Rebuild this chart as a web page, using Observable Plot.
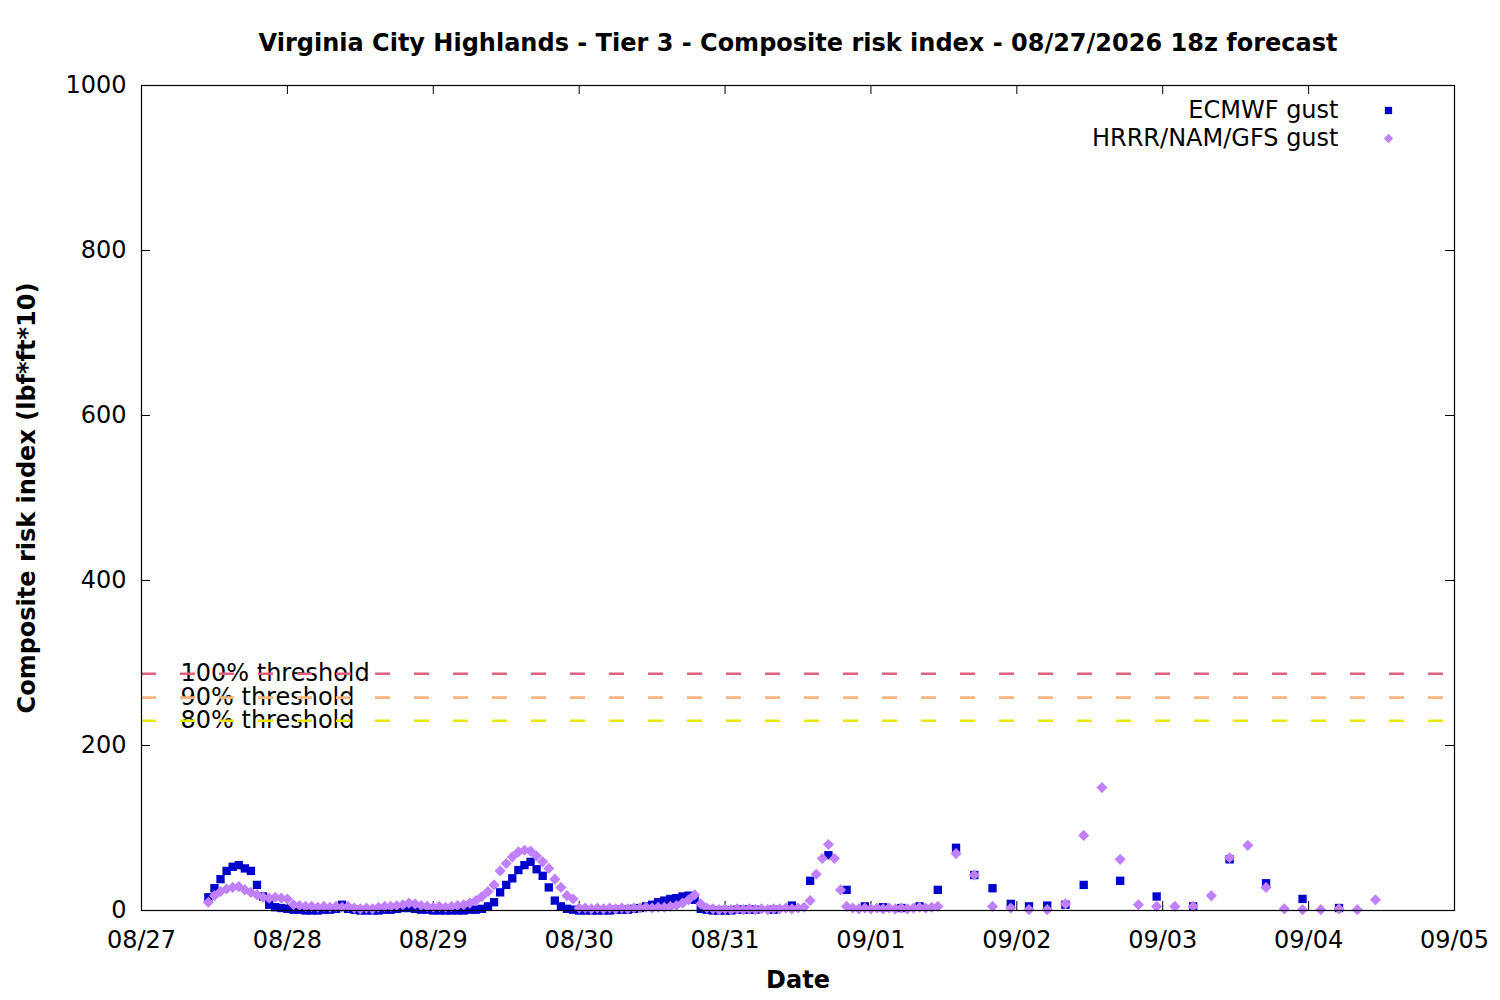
<!DOCTYPE html>
<html>
<head>
<meta charset="utf-8">
<script src="https://cdn.jsdelivr.net/npm/d3@7"></script>
<script src="https://cdn.jsdelivr.net/npm/@observablehq/plot@0.6"></script>
<style>
  body { margin: 0; background: #fff; }
  #chart svg { display: block; }
</style>
</head>
<body>
<div id="chart"></div>
<script>
// ---- Text ----
const title = "Virginia City Highlands - Tier 3 - Composite risk index - 08/27/2026 18z forecast";
const yLabel = "Composite risk index (lbf*ft*10)";
const xLabel = "Date";
const seriesNames = ["ECMWF gust", "HRRR/NAM/GFS gust"];
const seriesColors = ["#0000cc", "#c080ff"];

// ---- Axis ticks ----
const dayTickLabels = ["08/27", "08/28", "08/29", "08/30", "08/31", "09/01", "09/02", "09/03", "09/04", "09/05"];
const yTickValues = [0, 200, 400, 600, 800, 1000];

// ---- Thresholds ----
const thresholdLabels = ["100% threshold", "90% threshold", "80% threshold"];
const thresholdValues = [287, 258, 230];
const thresholdColors = ["#e0607e", "#fdb57f", "#e8e800"];

// ---- ECMWF gust (local time) ----
const ecmwfHourlyStart = "2026-08-27T11:00Z";   // hourly
const ecmwfHourly = [
  16, 27, 38, 48, 53, 55, 51, 48, 31, 17,
  7, 4, 3, 2, 1, 1, 0, 0, 0, 1,
  1, 2, 7, 2, 1, 0, 0, 0, 0, 1,
  1, 2, 3, 3, 2, 1, 1, 0, 0, 0,
  0, 0, 0, 1, 1, 2, 5, 10, 22, 31,
  39, 49, 55, 59, 50, 42, 28, 12, 5, 2,
  1, 0, 0, 0, 0, 0, 0, 1, 1, 1,
  2, 3, 5, 7, 10, 12, 14, 15, 17, 18,
  13, 2, 1, 0, 0, 0, 0, 1, 1, 1,
  1
];
const ecmwf3hStart = "2026-08-31T08:00Z";       // every 3 h
const ecmwf3h = [1, 6, 36, 67, 25, 5, 4, 3, 5, 25, 76, 43, 27, 8, 5, 6, 7, 31];
const ecmwf6hStart = "2026-09-02T17:00Z";       // every 6 h
const ecmwf6h = [36, 17, 5, 62, 33, 14, 3];

// ---- HRRR/NAM/GFS gust ----
const gfsHourlyStart = "2026-08-27T11:00Z";     // hourly
const gfsHourly = [
  10, 18, 23, 26, 28, 29, 25, 22, 19, 16,
  15, 16, 15, 14, 7, 6, 5, 5, 4, 5,
  4, 5, 4, 5, 3, 2, 3, 2, 4, 5,
  5, 6, 7, 9, 8, 6, 5, 4, 5, 4,
  5, 6, 7, 9, 12, 17, 23, 31, 48, 57,
  65, 71, 73, 72, 66, 59, 51, 38, 28, 18,
  14, 3, 3, 2, 3, 2, 3, 2, 3, 2,
  3, 3, 4, 3, 4, 4, 5, 6, 9, 13,
  19, 8, 3, 2, 1, 2, 1, 2, 1, 2,
  1, 2, 1, 2, 2, 3, 2, 3, 4, 12,
  44, 63, 80, 63, 25, 5, 3, 2, 3, 2,
  3, 2, 3, 2, 3, 2, 3, 4, 3, 4,
  5
];
const gfs3hStart = "2026-09-01T14:00Z";         // every 3 h
const gfs3h = [69, 43, 5, 3, 1, 1, 8, 91, 149, 62, 7, 5, 5, 5, 18, 64, 79, 28, 2, 1, 1, 2, 1, 13];

// ---- Build tables ----
const HOUR = 3600 * 1000;
function block(start, stepHours, values, series) {
  const t0 = new Date(start).getTime();
  return values.map((v, i) => ({date: new Date(t0 + i * stepHours * HOUR), value: v, series}));
}
const ecmwf = [
  ...block(ecmwfHourlyStart, 1, ecmwfHourly, seriesNames[0]),
  ...block(ecmwf3hStart, 3, ecmwf3h, seriesNames[0]),
  ...block(ecmwf6hStart, 6, ecmwf6h, seriesNames[0])
];
const gfs = [
  ...block(gfsHourlyStart, 1, gfsHourly, seriesNames[1]),
  ...block(gfs3hStart, 3, gfs3h, seriesNames[1])
];
const xTicks = dayTickLabels.map(s => {
  const [m, d] = s.split("/").map(Number);
  return new Date(Date.UTC(2026, m - 1, d));
});
const thresholds = thresholdLabels.map((label, i) => ({label, value: thresholdValues[i], color: thresholdColors[i]}));

const W = 1500, H = 1000;
const mL = 141, mR = 46, mT = 85, mB = 90;
const frameW = W - mL - mR, frameH = H - mT - mB;
const tickLen = 9;

const chart = Plot.plot({
  width: W,
  height: H,
  marginLeft: mL,
  marginRight: mR,
  marginTop: mT,
  marginBottom: mB,
  style: {fontFamily: "DejaVu Sans", fontSize: "24px", background: "#fff", color: "#000", overflow: "visible"},
  x: {type: "utc", domain: [xTicks[0], xTicks[xTicks.length - 1]]},
  y: {domain: [0, 1000]},
  color: {type: "identity"},
  marks: [
    // axis labels (text only)
    Plot.axisX({ticks: xTicks, tickSize: 0, tickPadding: 20, tickFormat: (d, i) => dayTickLabels[i], label: null, fontSize: 24}),
    Plot.axisY({ticks: yTickValues, tickSize: 0, tickPadding: 15, tickFormat: d3.format("d"), label: null, fontSize: 24}),
    // inward ticks on all four sides
    Plot.ruleX(xTicks, {x: d => d, insetTop: frameH - tickLen, stroke: "#000"}),
    Plot.ruleX(xTicks, {x: d => d, insetBottom: frameH - tickLen, stroke: "#000"}),
    Plot.ruleY(yTickValues, {y: d => d, insetRight: frameW - tickLen, stroke: "#000"}),
    Plot.ruleY(yTickValues, {y: d => d, insetLeft: frameW - tickLen, stroke: "#000"}),
    // threshold labels then dashed lines on top
    Plot.text(thresholds, {y: "value", text: "label", frameAnchor: "left", dx: 39, textAnchor: "start", lineAnchor: "middle", fill: "#000", fontSize: 24}),
    Plot.ruleY(thresholds, {y: "value", stroke: "color", strokeWidth: 2.6, strokeDasharray: "15,24"}),
    // data
    Plot.dot(ecmwf, {x: "date", y: "value", symbol: "square", r: 4.7, fill: seriesColors[0], stroke: "none"}),
    Plot.dot(gfs, {x: "date", y: "value", symbol: "diamond2", r: 5.0, fill: seriesColors[1], stroke: "none"}),
    // frame
    Plot.frame({stroke: "#000", strokeWidth: 1.2}),
    // legend
    Plot.text([seriesNames[0]], {frameAnchor: "top-right", dx: -116, dy: 25, textAnchor: "end", lineAnchor: "middle", fontSize: 24}),
    Plot.text([seriesNames[1]], {frameAnchor: "top-right", dx: -116, dy: 53, textAnchor: "end", lineAnchor: "middle", fontSize: 24}),
    Plot.dot([0], {frameAnchor: "top-right", dx: -66, dy: 25, symbol: "square", r: 4.1, fill: seriesColors[0], stroke: "none"}),
    Plot.dot([0], {frameAnchor: "top-right", dx: -66, dy: 53, symbol: "diamond2", r: 4.2, fill: seriesColors[1], stroke: "none"}),
    // titles
    Plot.text([title], {frameAnchor: "top", dy: -42, lineAnchor: "middle", fontWeight: "bold", fontSize: 24}),
    Plot.text([xLabel], {frameAnchor: "bottom", dy: 70, lineAnchor: "middle", fontWeight: "bold", fontSize: 24}),
    Plot.text([yLabel], {frameAnchor: "left", dx: -114, rotate: -90, textAnchor: "middle", lineAnchor: "middle", fontWeight: "bold", fontSize: 24})
  ]
});
document.getElementById("chart").appendChild(chart);
</script>
</body>
</html>
